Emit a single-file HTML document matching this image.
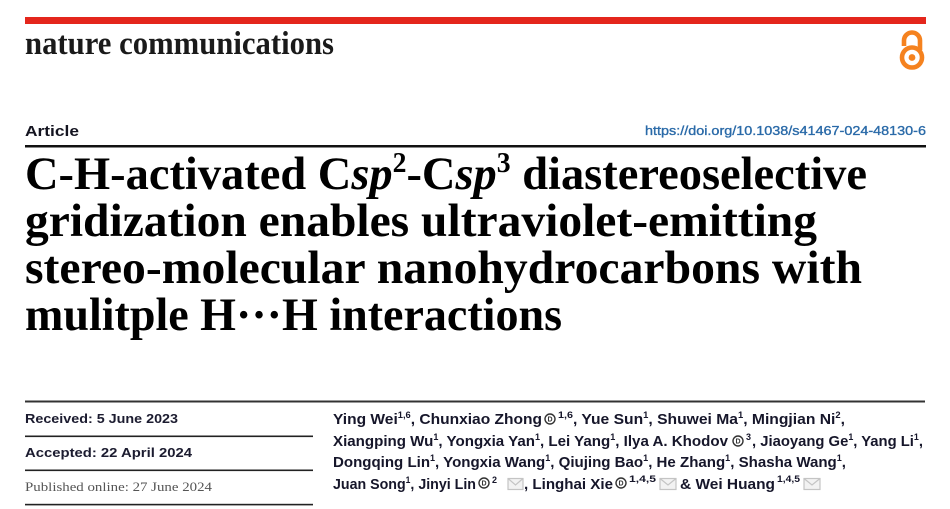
<!DOCTYPE html>
<html>
<head>
<meta charset="utf-8">
<style>
html,body{margin:0;padding:0;background:#fff;}
svg{display:block;}
</style>
</head>
<body>
<svg width="950" height="509" viewBox="0 0 950 509" xmlns="http://www.w3.org/2000/svg">
<rect width="950" height="509" fill="#fff"/>
<!-- red bar -->
<rect x="25" y="17" width="901" height="7" fill="#e4261c"/>
<!-- journal name -->
<text x="25" y="54" font-family="Liberation Serif, serif" font-weight="bold" font-size="33" fill="#1a1a1a" textLength="309" lengthAdjust="spacingAndGlyphs">nature communications</text>
<!-- open access icon -->
<g fill="none" stroke="#f5821f" stroke-width="4.6">
<circle cx="912" cy="57.5" r="10"/>
<path d="M904 46 V40.5 A8 8 0 0 1 920 40.5 V50"/>
</g>
<circle cx="912" cy="57.5" r="3.4" fill="#f5821f"/>
<!-- Article / DOI -->
<text x="25" y="136" font-family="Liberation Sans, sans-serif" font-weight="bold" font-size="15" fill="#141420" textLength="54" lengthAdjust="spacingAndGlyphs">Article</text>
<text x="645" y="135" font-family="Liberation Sans, sans-serif" font-size="13" fill="#2a6aa8" stroke="#2a6aa8" stroke-width="0.35" textLength="281" lengthAdjust="spacingAndGlyphs">https://doi.org/10.1038/s41467-024-48130-6</text>
<rect x="25" y="145" width="901" height="2.5" fill="#111"/>
<!-- Title -->
<g font-family="Liberation Serif, serif" font-weight="bold" font-size="47" fill="#000">
<text x="25" y="189" textLength="842" lengthAdjust="spacingAndGlyphs">C-H-activated C<tspan font-style="italic">sp</tspan><tspan dy="-17" font-size="28">2</tspan><tspan dy="17">-C</tspan><tspan font-style="italic">sp</tspan><tspan dy="-17" font-size="28">3</tspan><tspan dy="17"> diastereoselective</tspan></text>
<text x="25" y="236" textLength="792" lengthAdjust="spacingAndGlyphs">gridization enables ultraviolet-emitting</text>
<text x="25" y="283" textLength="837" lengthAdjust="spacingAndGlyphs">stereo-molecular nanohydrocarbons with</text>
<text x="25" y="330" textLength="537" lengthAdjust="spacingAndGlyphs">mulitple H···H interactions</text>
</g>
<!-- bottom rules -->
<rect x="25" y="400.5" width="900" height="2" fill="#333"/>
<rect x="25" y="435.5" width="288" height="1.6" fill="#222"/>
<rect x="25" y="469.5" width="288" height="1.6" fill="#222"/>
<rect x="25" y="503.8" width="288" height="1.6" fill="#222"/>
<!-- dates -->
<text x="25" y="423" font-family="Liberation Sans, sans-serif" font-weight="bold" font-size="13" fill="#1c1c30" textLength="153" lengthAdjust="spacingAndGlyphs">Received: 5 June 2023</text>
<text x="25" y="457" font-family="Liberation Sans, sans-serif" font-weight="bold" font-size="13" fill="#1c1c30" textLength="167" lengthAdjust="spacingAndGlyphs">Accepted: 22 April 2024</text>
<text x="25" y="491" font-family="Liberation Serif, serif" font-size="13" fill="#555" textLength="187" lengthAdjust="spacingAndGlyphs">Published online: 27 June 2024</text>
<!-- authors -->
<g font-family="Liberation Sans, sans-serif" font-weight="bold" font-size="15" fill="#16162a">
<!-- line 1 -->
<text x="333" y="424" textLength="209" lengthAdjust="spacingAndGlyphs">Ying Wei<tspan dy="-6" font-size="9">1,6</tspan><tspan dy="6">, Chunxiao Zhong</tspan></text>
<text x="558" y="418" font-size="9" textLength="15" lengthAdjust="spacingAndGlyphs">1,6</text>
<text x="573" y="424" textLength="272" lengthAdjust="spacingAndGlyphs">, Yue Sun<tspan dy="-6" font-size="9">1</tspan><tspan dy="6">, Shuwei Ma</tspan><tspan dy="-6" font-size="9">1</tspan><tspan dy="6">, Mingjian Ni</tspan><tspan dy="-6" font-size="9">2</tspan><tspan dy="6">,</tspan></text>
<!-- line 2 -->
<text x="333" y="446" textLength="395" lengthAdjust="spacingAndGlyphs">Xiangping Wu<tspan dy="-6" font-size="9">1</tspan><tspan dy="6">, Yongxia Yan</tspan><tspan dy="-6" font-size="9">1</tspan><tspan dy="6">, Lei Yang</tspan><tspan dy="-6" font-size="9">1</tspan><tspan dy="6">, Ilya A. Khodov</tspan></text>
<text x="746" y="440" font-size="9">3</text>
<text x="752" y="446" textLength="171" lengthAdjust="spacingAndGlyphs">, Jiaoyang Ge<tspan dy="-6" font-size="9">1</tspan><tspan dy="6">, Yang Li</tspan><tspan dy="-6" font-size="9">1</tspan><tspan dy="6">,</tspan></text>
<!-- line 3 -->
<text x="333" y="467" textLength="513" lengthAdjust="spacingAndGlyphs">Dongqing Lin<tspan dy="-6" font-size="9">1</tspan><tspan dy="6">, Yongxia Wang</tspan><tspan dy="-6" font-size="9">1</tspan><tspan dy="6">, Qiujing Bao</tspan><tspan dy="-6" font-size="9">1</tspan><tspan dy="6">, He Zhang</tspan><tspan dy="-6" font-size="9">1</tspan><tspan dy="6">, Shasha Wang</tspan><tspan dy="-6" font-size="9">1</tspan><tspan dy="6">,</tspan></text>
<!-- line 4 -->
<text x="333" y="489" textLength="143" lengthAdjust="spacingAndGlyphs">Juan Song<tspan dy="-6" font-size="9">1</tspan><tspan dy="6">, Jinyi Lin</tspan></text>
<text x="492" y="483" font-size="9">2</text>
<text x="524" y="489" textLength="89" lengthAdjust="spacingAndGlyphs">, Linghai Xie</text>
<text x="629" y="482" font-size="9" textLength="27" lengthAdjust="spacingAndGlyphs">1,4,5</text>
<text x="680" y="489" textLength="95" lengthAdjust="spacingAndGlyphs">&amp; Wei Huang</text>
<text x="777" y="482" font-size="9" textLength="23" lengthAdjust="spacingAndGlyphs">1,4,5</text>
</g>
<!-- ORCID icons -->
<g>
<circle cx="550" cy="419" r="5" fill="#fff" stroke="#333" stroke-width="1.4"/>
<text x="550" y="421.6" font-family="Liberation Sans, sans-serif" font-weight="bold" font-size="7" fill="#333" text-anchor="middle">D</text>
<circle cx="738" cy="441" r="5" fill="#fff" stroke="#333" stroke-width="1.4"/>
<text x="738" y="443.6" font-family="Liberation Sans, sans-serif" font-weight="bold" font-size="7" fill="#333" text-anchor="middle">D</text>
<circle cx="484" cy="483" r="5" fill="#fff" stroke="#333" stroke-width="1.4"/>
<text x="484" y="485.6" font-family="Liberation Sans, sans-serif" font-weight="bold" font-size="7" fill="#333" text-anchor="middle">D</text>
<circle cx="621" cy="483" r="5" fill="#fff" stroke="#333" stroke-width="1.4"/>
<text x="621" y="485.6" font-family="Liberation Sans, sans-serif" font-weight="bold" font-size="7" fill="#333" text-anchor="middle">D</text>
</g>
<!-- mail icons -->
<g fill="#f2f2f2" stroke="#c4c4c4" stroke-width="1.2">
<rect x="508" y="478.5" width="15" height="11"/>
<polyline points="508,478.5 515.5,485 523,478.5" fill="none"/>
<rect x="660" y="478.5" width="16" height="11"/>
<polyline points="660,478.5 668,485 676,478.5" fill="none"/>
<rect x="804" y="478.5" width="16" height="11"/>
<polyline points="804,478.5 812,485 820,478.5" fill="none"/>
</g>
</svg>
</body>
</html>
